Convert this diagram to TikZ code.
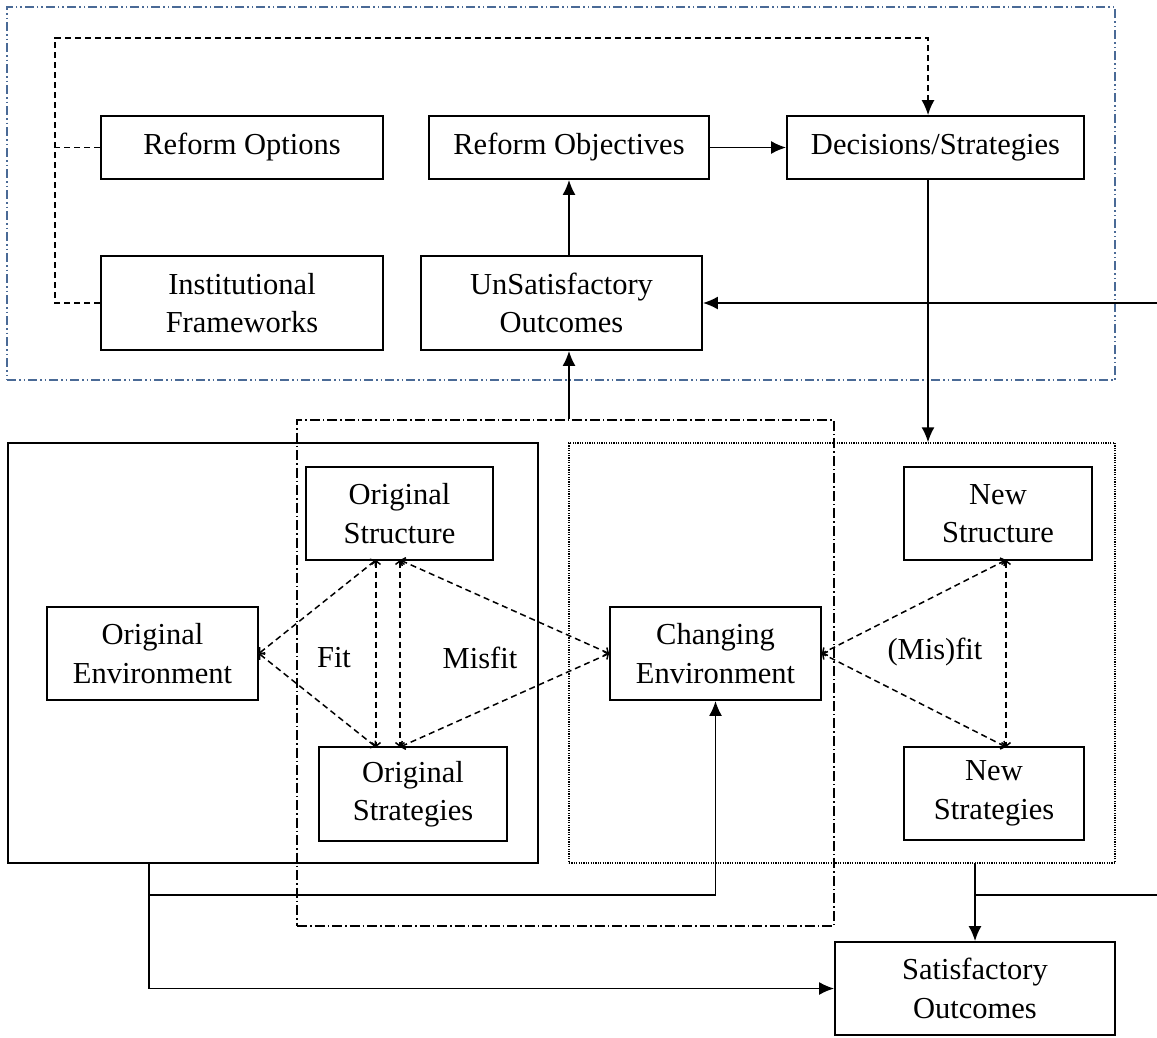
\documentclass[tikz,border=0pt]{standalone}
\usepackage{fontspec}
\setmainfont{Liberation Serif}
\usetikzlibrary{arrows.meta}
\definecolor{bluebox}{HTML}{4A6A96}
\begin{document}
\begin{tikzpicture}[x=1pt,y=-1pt,
  font=\fontsize{30.5}{38.5}\selectfont,
  box/.style={draw, line width=1.8pt, rectangle, inner sep=0pt, align=center},
  container/.style={draw, rectangle, inner sep=0pt},
  arr/.style={line width=1.7pt, -{Latex[length=15pt,width=13pt]}},
  plain/.style={line width=1.7pt},
  dconn/.style={line width=1.5pt, dash pattern=on 6pt off 4pt},
  fitline/.style={line width=1.5pt, dash pattern=on 6pt off 4pt,
     {Straight Barb[length=3.5pt,width=9pt]}-{Straight Barb[length=3.5pt,width=9pt]}},
  lbl/.style={inner sep=0pt}
]
\useasboundingbox (0,0) rectangle (1157,1037);

% containers
\node[container, draw=bluebox, line width=1.6pt,
      dash pattern=on 9pt off 3pt on 1.5pt off 3pt on 1.5pt off 3pt,
      minimum width=1108pt, minimum height=373pt] (topbox) at (561,193.5) {};
\node[container, line width=1.8pt, minimum width=530pt, minimum height=420pt] (origbox) at (273,653) {};
\node[container, line width=1.4pt, dash pattern=on 1.2pt off 1.2pt,
      minimum width=546pt, minimum height=420pt] (newbox) at (842,653) {};
\node[container, line width=1.6pt, dash pattern=on 10pt off 3pt on 1.5pt off 3pt,
      minimum width=537pt, minimum height=506pt] (midbox) at (565.5,673) {};

% boxes
\node[box, minimum width=282pt, minimum height=63pt] (ro) at (242,147.5) {Reform Options};
\node[box, minimum width=282pt, minimum height=94pt] (inst) at (242,303) {Institutional\\Frameworks};
\node[box, minimum width=280pt, minimum height=63pt] (robj) at (569,147.5) {Reform Objectives};
\node[box, minimum width=281pt, minimum height=94pt] (unsat) at (561.5,303) {UnSatisfactory\\Outcomes};
\node[box, minimum width=297pt, minimum height=63pt] (dec) at (935.5,147.5) {Decisions/Strategies};
\node[box, minimum width=187pt, minimum height=93pt] (os) at (399.5,513.5) {Original\\Structure};
\node[box, minimum width=188pt, minimum height=94pt] (ostr) at (413,794) {Original\\Strategies};
\node[box, minimum width=211pt, minimum height=93pt] (oe) at (152.5,653.5) {Original\\Environment};
\node[box, minimum width=211pt, minimum height=93pt] (ce) at (715.5,653.5) {Changing\\Environment};
\node[box, minimum width=188pt, minimum height=93pt] (ns) at (998,513.5) {New\\Structure};
\node[box, minimum width=180pt, minimum height=93pt] (nst) at (994,793.5) {New\\Strategies};
\node[box, minimum width=280pt, minimum height=93pt] (sat) at (975,988.5) {Satisfactory\\Outcomes};

% labels
\node[lbl] (fit) at (334,658) {Fit};
\node[lbl] (misfit) at (480,658) {Misfit};
\node[lbl] (misfit2) at (935,652) {(Mis)fit};

% coordinates
\coordinate (tl) at (55,38);
\coordinate (dectop) at ([xshift=-7.5pt]dec.north);
\coordinate (decbot) at ([xshift=-7.5pt]dec.south);
\coordinate (reA) at (1157,303);
\coordinate (reB) at (1157,895);
\coordinate (obl) at (149,863);
\coordinate (nbl) at (975,863);

% top area connectors
\draw[dconn] (ro.west) -- (ro.west -| tl);
\draw[dconn, -{Latex[length=15pt,width=13pt]}] (inst.west) -| (tl) -| (dectop);
\draw[arr] (robj.east) -- (dec.west);
\draw[arr] (unsat.north -| robj.south) -- (robj.south);
\draw[arr] (midbox.north -| robj.south) -- (unsat.south -| robj.south);
\draw[arr] (reA) -- (unsat.east);
\draw[arr] (decbot) -- (decbot |- newbox.north);

% fit / misfit
\coordinate (osL) at (376,560);
\coordinate (osR) at (400,560);
\coordinate (otL) at (376,747);
\coordinate (otR) at (400,747);
\coordinate (nsB) at (1006,560);
\coordinate (ntT) at (1006,747);
\draw[fitline] (oe.east) -- (osL);
\draw[fitline] (oe.east) -- (otL);
\draw[fitline] (osL) -- (otL);
\draw[fitline] (osR) -- (otR);
\draw[fitline] (osR) -- (ce.west);
\draw[fitline] (otR) -- (ce.west);
\draw[fitline] (nsB) -- (ce.east);
\draw[fitline] (ntT) -- (ce.east);
\draw[fitline] (nsB) -- (ntT);

% bottom connectors
\draw[arr] (obl) |- (sat.west);
\draw[arr] (obl |- reB) -| (ce.south);
\draw[arr] (nbl) -- (sat.north);
\draw[plain] (nbl |- reB) -- (reB);
\end{tikzpicture}
\end{document}
